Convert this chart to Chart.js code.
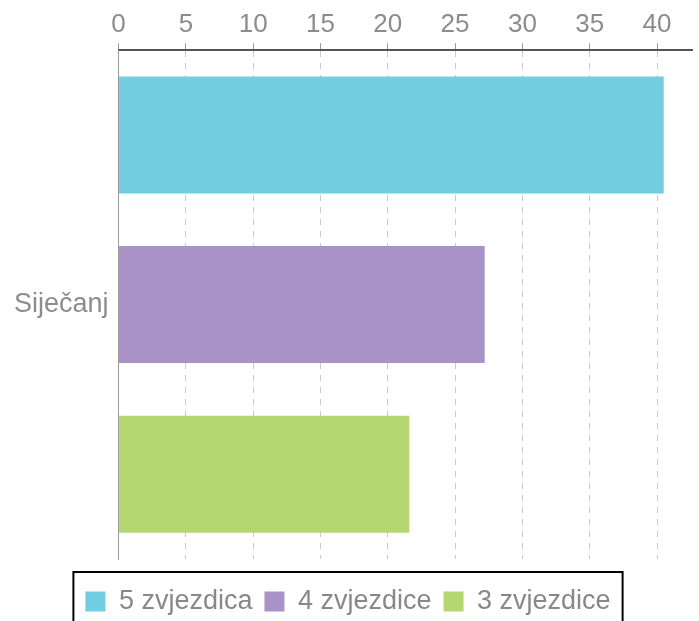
<!DOCTYPE html>
<html>
<head>
<meta charset="utf-8">
<script src="https://cdn.jsdelivr.net/npm/chart.js@4/dist/chart.umd.min.js"></script>
<style>
  html, body { margin: 0; padding: 0; background: #fff; }
  #wrap { width: 699px; height: 621px; }
</style>
</head>
<body>
<div id="wrap"><canvas id="chart"></canvas></div>
<script>
// podaci
const categories = ["Siječanj"];
const seriesNames = ["5 zvjezdica", "4 zvjezdice", "3 zvjezdice"];
const fiveStars = [40.5];
const fourStars = [27.2];
const threeStars = [21.6];
const seriesColors = ["#72cde0", "#a992c8", "#b6d66f"];
const tickValues = [0, 5, 10, 15, 20, 25, 30, 35, 40];
const axisMax = 42.6;

const fontFamily = "'Liberation Sans', Arial, sans-serif";

// okvir oko legende (crni rub)
const legendFrame = {
  id: "legendFrame",
  afterDraw(chart) {
    const boxes = chart.legend.legendHitBoxes;
    if (!boxes || !boxes.length) return;
    let l = Infinity, r = -Infinity, t = Infinity;
    boxes.forEach(b => {
      l = Math.min(l, b.left);
      r = Math.max(r, b.left + b.width);
      t = Math.min(t, b.top);
    });
    const ctx = chart.ctx;
    ctx.save();
    ctx.strokeStyle = "#000";
    ctx.lineWidth = 2;
    ctx.strokeRect(l - 12, t - 16, (r - l) + 24, 90);
    ctx.restore();
  }
};

const allData = [fiveStars, fourStars, threeStars];

new Chart(document.getElementById("chart"), {
  type: "bar",
  data: {
    labels: categories,
    datasets: seriesNames.map((name, i) => ({
      label: name,
      data: allData[i],
      backgroundColor: seriesColors[i],
      borderWidth: 0,
      barPercentage: 0.69,
      categoryPercentage: 1.0
    }))
  },
  options: {
    indexAxis: "y",
    responsive: true,
    maintainAspectRatio: false,
    animation: false,
    layout: { padding: { left: 4, right: 7, top: 6, bottom: -4 } },
    plugins: {
      tooltip: { enabled: false },
      legend: {
        position: "bottom",
        title: {
          display: true,
          text: " ",
          font: { size: 1, lineHeight: 1 },
          padding: { top: 16, bottom: 0 }
        },
        labels: {
          boxWidth: 20,
          boxHeight: 20,
          padding: 12,
          color: "#888",
          font: { family: fontFamily, size: 27 }
        }
      }
    },
    scales: {
      x: {
        position: "top",
        min: 0,
        max: axisMax,
        afterBuildTicks(scale) {
          scale.ticks = tickValues.map(v => ({ value: v }));
        },
        ticks: {
          color: "#8c8c8c",
          padding: 3,
          font: { family: fontFamily, size: 26 }
        },
        grid: {
          color: "#c8c8c8",
          lineWidth: 1,
          tickLength: 7,
          tickColor: "#999",
          tickBorderDash: []
        },
        border: { display: true, color: "#555", width: 2, dash: [6, 6] }
      },
      y: {
        ticks: {
          color: "#8c8c8c",
          padding: 10,
          font: { family: fontFamily, size: 27 }
        },
        grid: { display: false, drawTicks: false },
        border: { display: true, color: "#999", width: 1 }
      }
    }
  },
  plugins: [legendFrame]
});
</script>
</body>
</html>
